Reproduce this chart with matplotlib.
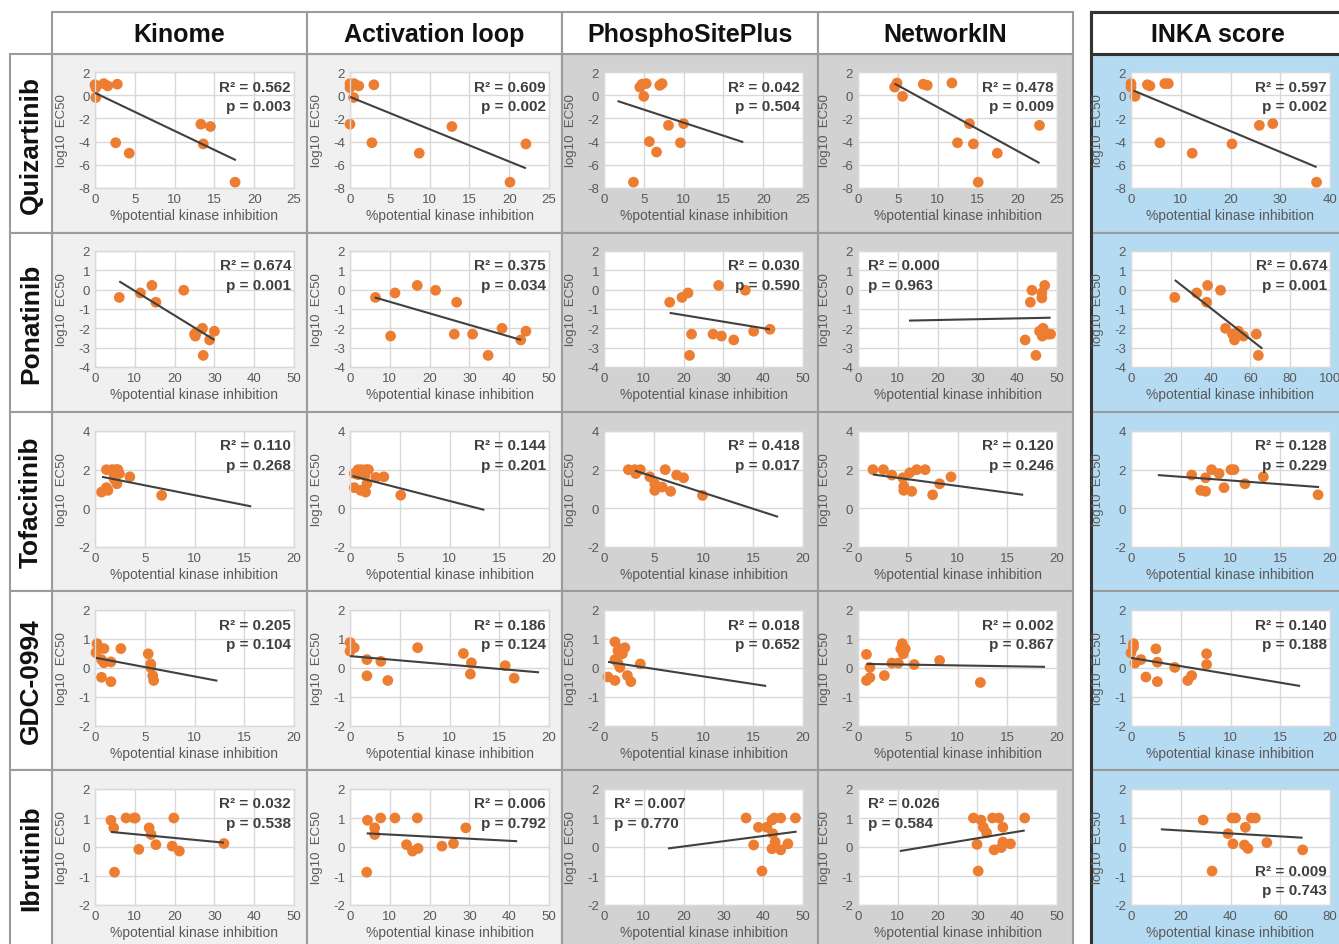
import matplotlib
matplotlib.use("Agg")
import matplotlib.pyplot as plt
from matplotlib.patches import Rectangle
import numpy as np

plt.rcParams['font.family'] = ['Liberation Sans', 'DejaVu Sans']
plt.rcParams['axes.unicode_minus'] = False

# ---------------- data ----------------
drugs = ["Quizartinib", "Ponatinib", "Tofacitinib", "GDC-0994", "Ibrutinib"]
methods = ["Kinome", "Activation loop", "PhosphoSitePlus", "NetworkIN", "INKA score"]

# x = %potential kinase inhibition, y = log10 EC50 ; order of columns = methods
quiz_x = [
    [0, 0.1, 0.1, 1.1, 1.6, 2.8, 2.6, 4.3, 13.3, 14.5, 13.6, 17.6],
    [0, 0, 0.5, 1.1, 0.45, 0, 3.0, 2.75, 8.7, 12.8, 20.1, 22.1],
    [4.5, 4.8, 5.3, 5.0, 7.0, 7.3, 3.7, 5.7, 6.6, 8.1, 10.0, 9.6],
    [4.6, 4.9, 5.6, 8.2, 8.7, 11.8, 14.0, 12.5, 14.5, 17.5, 15.1, 22.8],
    [0, 0, 0.8, 3.3, 3.8, 6.8, 7.5, 5.8, 12.3, 20.3, 25.8, 28.5, 37.3],
]
quiz_y = [
    [0.9, 0.65, -0.2, 1.0, 0.8, 0.95, -4.1, -5.0, -2.5, -2.7, -4.2, -7.5],
    [1.0, 0.65, 1.0, 0.8, -0.2, -2.5, 0.9, -4.1, -5.0, -2.7, -7.5, -4.2],
    [0.7, 0.95, 1.0, -0.1, 0.85, 1.0, -7.5, -4.0, -4.9, -2.6, -2.45, -4.1],
    [0.7, 1.05, -0.1, 0.95, 0.85, 1.05, -2.45, -4.1, -4.2, -5.0, -7.5, -2.6],
    [1.0, 0.7, -0.1, 0.9, 0.8, 1.0, 1.0, -4.1, -5.0, -4.2, -2.6, -2.45, -7.5],
]
quiz_trend = [(0, 0.2, 17.7, -5.6), (0, -0.15, 22.1, -6.3), (1.7, -0.5, 17.5, -4.05),
              (4.6, 1.0, 22.8, -5.85), (0.5, 0.4, 37.3, -6.2)]

pona_x = [
    [6.1, 11.4, 14.3, 15.3, 22.3, 25.0, 25.2, 25.5, 27.0, 28.8, 30.0, 27.2],
    [6.4, 11.3, 10.2, 16.9, 21.5, 26.8, 26.2, 30.8, 34.7, 38.2, 42.9, 44.2],
    [16.5, 19.6, 21.1, 22.0, 21.5, 27.4, 28.8, 29.5, 32.6, 35.5, 37.6, 41.7],
    [43.3, 43.7, 46.2, 46.2, 46.9, 42.0, 44.7, 45.6, 46.3, 46.5, 47.8, 48.4],
    [22, 33, 38.5, 38, 45, 47.5, 51, 52, 54, 56.5, 63, 64],
]
pona_y = [
    [-0.4, -0.17, 0.22, -0.65, -0.03, -2.3, -2.4, -2.2, -2.0, -2.6, -2.15, -3.4],
    [-0.4, -0.17, -2.4, 0.22, -0.03, -0.65, -2.3, -2.3, -3.4, -2.0, -2.6, -2.15],
    [-0.65, -0.4, -0.17, -2.3, -3.4, -2.3, 0.22, -2.4, -2.6, -0.03, -2.15, -2.05],
    [-0.65, -0.03, -0.17, -0.43, 0.22, -2.6, -3.4, -2.15, -2.4, -2.0, -2.3, -2.3],
    [-0.4, -0.17, 0.22, -0.65, -0.03, -2.0, -2.3, -2.6, -2.15, -2.4, -2.3, -3.4],
]
pona_trend = [(6.1, 0.43, 30.0, -2.6), (6.2, -0.4, 43.0, -2.6), (16.5, -1.2, 41.7, -2.05),
              (12.8, -1.6, 48.4, -1.45), (22, 0.5, 66, -3.05)]

tofa_x = [
    [0.65, 1.15, 1.3, 1.15, 1.7, 2.1, 2.3, 1.9, 2.45, 1.95, 2.2, 3.5, 6.7],
    [0.43, 0.43, 0.8, 1.15, 1.6, 1.85, 0.8, 1.5, 1.07, 1.57, 1.7, 2.6, 3.4, 5.1],
    [2.45, 3.1, 3.65, 3.2, 4.6, 5.1, 5.1, 5.85, 6.15, 6.7, 7.3, 8.0, 9.9],
    [1.5, 2.55, 3.4, 4.5, 4.6, 4.6, 5.2, 5.4, 5.9, 6.75, 7.5, 8.2, 9.35],
    [6.1, 7.0, 7.5, 7.5, 8.1, 8.85, 9.35, 10.05, 10.35, 11.45, 13.3, 18.8],
]
tofa_y = [
    [0.84, 1.07, 0.93, 2.0, 2.0, 2.0, 2.0, 1.75, 1.8, 1.5, 1.27, 1.63, 0.67],
    [1.07, 1.8, 2.0, 2.0, 2.0, 2.0, 1.74, 1.7, 0.93, 0.84, 1.27, 1.6, 1.63, 0.68],
    [2.0, 2.0, 2.0, 1.8, 1.63, 1.27, 0.93, 1.1, 2.0, 0.88, 1.72, 1.58, 0.67],
    [2.0, 2.0, 1.72, 1.58, 1.14, 0.93, 1.84, 0.88, 2.0, 2.0, 0.7, 1.27, 1.63],
    [1.72, 0.93, 1.58, 0.88, 2.0, 1.8, 1.07, 2.0, 2.0, 1.27, 1.63, 0.7],
]
tofa_trend = [(0.7, 1.63, 15.7, 0.1), (0.25, 1.67, 13.5, -0.08), (3.1, 1.95, 17.5, -0.44),
              (1.5, 1.75, 16.6, 0.7), (2.7, 1.72, 18.9, 1.1)]

gdc_x = [
    [0.1, 0.2, 0.65, 0.65, 0.9, 0.9, 1.6, 1.6, 2.6, 5.35, 5.6, 5.6, 5.8, 5.9],
    [0, 0, 0.43, 1.7, 1.7, 3.1, 3.8, 6.8, 11.4, 12.2, 12.1, 15.6, 16.5],
    [0.4, 1.1, 1.1, 1.1, 1.4, 1.4, 1.6, 1.6, 1.85, 2.1, 2.35, 2.7, 3.65],
    [0.85, 0.85, 1.2, 1.2, 2.65, 3.4, 4.05, 4.3, 4.45, 4.55, 4.75, 5.65, 8.2, 12.3],
    [0, 0.25, 0.25, 0.4, 1.0, 1.5, 2.5, 2.65, 2.65, 4.4, 5.7, 6.1, 7.6, 7.6],
]
gdc_y = [
    [0.53, 0.84, 0.29, -0.32, 0.67, 0.18, 0.21, -0.47, 0.67, 0.49, 0.14, 0.02, -0.26, -0.43],
    [0.88, 0.58, 0.7, 0.29, -0.27, 0.23, -0.43, 0.7, 0.5, 0.18, -0.21, 0.08, -0.35],
    [-0.31, -0.43, 0.9, 0.29, 0.17, 0.6, 0.66, 0.02, 0.49, 0.7, -0.26, -0.47, 0.14],
    [0.47, -0.43, -0.33, 0.02, -0.26, 0.17, 0.17, 0.66, 0.84, 0.49, 0.66, 0.12, 0.26, -0.5],
    [0.52, 0.84, 0.72, 0.17, 0.29, -0.31, 0.66, 0.2, -0.47, 0.02, -0.43, -0.26, 0.49, 0.12],
]
gdc_trend = [(0.1, 0.35, 12.3, -0.44), (0, 0.41, 19.0, -0.15), (0.4, 0.21, 16.3, -0.62),
             (0.85, 0.14, 18.8, 0.04), (0, 0.35, 17.0, -0.62)]

ibru_x = [
    [4.0, 4.7, 4.9, 7.8, 9.8, 10.1, 11.0, 13.6, 14.1, 15.3, 19.4, 19.8, 21.2, 32.4],
    [4.2, 4.4, 6.2, 6.2, 7.7, 11.3, 14.2, 15.7, 16.9, 17.1, 23.1, 26.0, 29.1],
    [35.7, 37.6, 38.8, 39.7, 40.9, 42.2, 42.8, 42.4, 42.2, 43.0, 44.4, 44.4, 46.2, 48.1],
    [29.0, 29.9, 30.2, 30.9, 31.5, 32.3, 33.8, 34.2, 35.4, 36.0, 36.4, 36.4, 38.3, 41.9],
    [29, 32.6, 39, 40.6, 41, 42, 45.6, 46, 47, 48.4, 50, 54.6, 69],
]
ibru_y = [
    [0.92, 0.66, -0.87, 1.0, 1.0, 1.0, -0.08, 0.66, 0.43, 0.08, 0.03, 1.0, -0.14, 0.12],
    [-0.87, 0.92, 0.66, 0.43, 1.0, 1.0, 0.08, -0.14, 1.0, -0.05, 0.03, 0.12, 0.66],
    [1.0, 0.07, 0.68, -0.83, 0.68, 0.93, 1.0, 0.46, -0.06, 0.17, 1.0, -0.1, 0.11, 1.0],
    [1.0, 0.09, -0.83, 0.93, 0.68, 0.49, 1.0, -0.1, 1.0, -0.02, 0.68, 0.17, 0.11, 1.0],
    [0.93, -0.83, 0.46, 1.0, 0.11, 1.0, 0.07, 0.68, -0.05, 1.0, 1.0, 0.15, -0.1],
]
ibru_trend = [(4.0, 0.52, 32.4, 0.15), (4.2, 0.47, 42.0, 0.2), (16.1, -0.05, 48.4, 0.53),
              (10.5, -0.14, 41.9, 0.57), (12, 0.61, 69, 0.32)]

r2_values = [[0.562, 0.609, 0.042, 0.478, 0.597],
             [0.674, 0.375, 0.030, 0.000, 0.674],
             [0.110, 0.144, 0.418, 0.120, 0.128],
             [0.205, 0.186, 0.018, 0.002, 0.140],
             [0.032, 0.006, 0.007, 0.026, 0.009]]
p_values = [[0.003, 0.002, 0.504, 0.009, 0.002],
            [0.001, 0.034, 0.590, 0.963, 0.001],
            [0.268, 0.201, 0.017, 0.246, 0.229],
            [0.104, 0.124, 0.652, 0.867, 0.188],
            [0.538, 0.792, 0.770, 0.584, 0.743]]

y_ranges = [(-8, 2, 2), (-4, 2, 1), (-2, 4, 2), (-2, 2, 1), (-2, 2, 1)]
x_max = [[25, 25, 25, 25, 40], [50, 50, 50, 50, 100], [20, 20, 20, 20, 20],
         [20, 20, 20, 20, 20], [50, 50, 50, 50, 80]]
x_step = [[5, 5, 5, 5, 10], [10, 10, 10, 10, 20], [5, 5, 5, 5, 5],
          [5, 5, 5, 5, 5], [10, 10, 10, 10, 20]]

all_x = [quiz_x, pona_x, tofa_x, gdc_x, ibru_x]
all_y = [quiz_y, pona_y, tofa_y, gdc_y, ibru_y]
all_trend = [quiz_trend, pona_trend, tofa_trend, gdc_trend, ibru_trend]

# ---------------- layout ----------------
W, H = 1339, 945
fig = plt.figure(figsize=(W / 100, H / 100), dpi=100)


def rect(x0, y0, x1, y1, fc, ec, lw, z=-5):
    fig.add_artist(Rectangle((x0 / W, 1 - y1 / H), (x1 - x0) / W, (y1 - y0) / H,
                             transform=fig.transFigure, fc=fc, ec=ec, lw=lw, zorder=z))


col_edges = [(52, 307), (307, 562), (562, 818), (818, 1073), (1091, 1345)]
row_edges = [55, 234, 413, 592, 771, 955]
fills = ['#f0f0f0', '#f0f0f0', '#d2d2d2', '#d2d2d2', '#b5dbf2']
border = '#9b9b9b'

for c, (x0, x1) in enumerate(col_edges):
    for r in range(5):
        rect(x0, row_edges[r], x1, row_edges[r + 1], fills[c], border, 1.5)
    rect(x0, 13, x1, 55, 'white', border, 1.5)
    fig.text(((x0 + x1) / 2) / W, 1 - 35 / H, methods[c], ha='center', va='center',
             fontsize=18, fontweight='bold', color='#111111')
# INKA dark frame
rect(1091, 13, 1345, 955, 'none', '#333333', 2.2, z=-1)
rect(1091, 13, 1345, 55, 'none', '#333333', 2.2, z=-1)

for r in range(5):
    rect(10, row_edges[r], 52, row_edges[r + 1], 'white', border, 1.5)
    fig.text(31 / W, 1 - ((row_edges[r] + min(row_edges[r + 1], 945)) / 2) / H, drugs[r],
             rotation=90, ha='center', va='center', fontsize=19, fontweight='bold',
             color='#111111')

plot_left = [95, 350, 604, 858, 1131]
plot_top = [73, 252, 432, 611, 790]
pw, ph = 199, 116

text_pos = {(1, 3): 'tl', (4, 2): 'tl', (4, 3): 'tl', (4, 4): 'br'}
gray = '#595959'
gridc = '#d9d9d9'

for r in range(5):
    ymin, ymax, ystep = y_ranges[r]
    for c in range(5):
        ax = fig.add_axes([plot_left[c] / W, 1 - (plot_top[r] + ph) / H, pw / W, ph / H])
        ax.set_facecolor('white')
        ax.set_xlim(0, x_max[r][c])
        ax.set_ylim(ymin, ymax)
        ax.set_xticks(np.arange(0, x_max[r][c] + 0.01, x_step[r][c]))
        ax.set_yticks(np.arange(ymin, ymax + 0.01, ystep))
        ax.grid(True, color=gridc, lw=1.0)
        ax.set_axisbelow(True)
        for s in ax.spines.values():
            s.set_color(gridc)
            s.set_linewidth(1.0)
        ax.tick_params(length=0, labelsize=9.5, labelcolor=gray, pad=3.5)
        ax.set_xlabel('%potential kinase inhibition', fontsize=10, color=gray)
        ax.xaxis.set_label_coords(0.5, -0.175)
        ax.set_ylabel('log10  EC50', fontsize=9.5, color=gray)
        ax.yaxis.set_label_coords(-0.135, 0.5)

        ax.scatter(all_x[r][c], all_y[r][c], s=60, color='#ED7D31', edgecolors='none',
                   zorder=2, clip_on=False)
        x0, y0, x1, y1 = all_trend[r][c]
        ax.plot([x0, x1], [y0, y1], color='#404040', lw=1.5, zorder=3,
                solid_capstyle='butt')

        pos = text_pos.get((r, c), 'tr')
        if pos == 'tr':
            tx, ha, ty1, ty2 = 0.985, 'right', 0.875, 0.71
        elif pos == 'tl':
            tx, ha, ty1, ty2 = 0.05, 'left', 0.875, 0.71
        else:
            tx, ha, ty1, ty2 = 0.985, 'right', 0.295, 0.13
        ax.text(tx, ty1, f"R² = {r2_values[r][c]:.3f}", transform=ax.transAxes, ha=ha,
                va='center', fontsize=11, fontweight='bold', color='#404040', zorder=4)
        ax.text(tx, ty2, f"p = {p_values[r][c]:.3f}", transform=ax.transAxes, ha=ha,
                va='center', fontsize=11, fontweight='bold', color='#404040', zorder=4)

fig.savefig('out.png', dpi=100, facecolor='white')
